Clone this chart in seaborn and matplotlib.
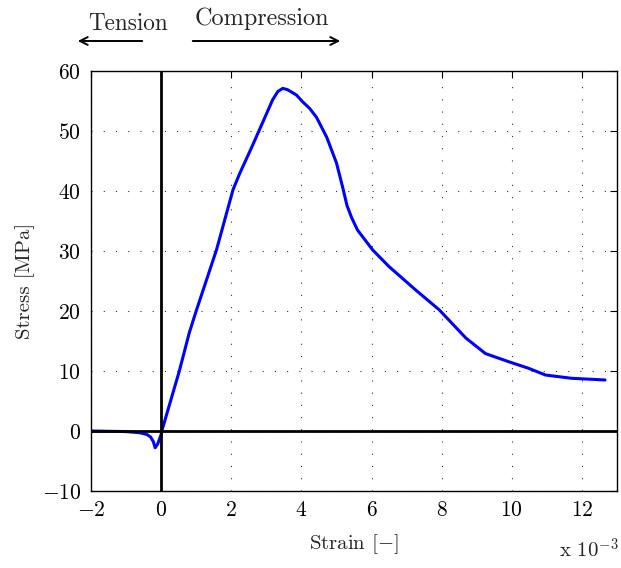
import matplotlib
matplotlib.use("Agg")
import matplotlib.pyplot as plt
import seaborn as sns
import pandas as pd

strain = [-2.0, -1.5, -1.0, -0.6, -0.4, -0.3, -0.22, -0.17, -0.1, 0.0, 0.02, 0.52, 0.8, 1.0,
          1.58, 2.05, 2.24, 2.6, 3.0, 3.18, 3.33, 3.47, 3.6, 3.86, 4.03, 4.23, 4.43, 4.72,
          5.0, 5.17, 5.3, 5.43, 5.6, 6.03, 6.5, 7.26, 7.93, 8.69, 9.25, 9.91, 10.48, 10.96,
          11.71, 12.66]
stress = [0.0, -0.05, -0.1, -0.3, -0.6, -1.0, -1.8, -2.8, -2.2, -0.6, 0.0, 10.0, 16.3, 20.0,
          30.2, 40.2, 42.9, 47.5, 52.8, 55.2, 56.6, 57.1, 56.9, 56.0, 54.9, 53.8, 52.3, 49.0,
          44.7, 40.8, 37.6, 35.6, 33.5, 30.2, 27.4, 23.5, 20.2, 15.5, 12.9, 11.55, 10.45, 9.33,
          8.78, 8.5]
xticks = [-2, 0, 2, 4, 6, 8, 10, 12]
yticks = [-10, 0, 10, 20, 30, 40, 50, 60]

sns.set_style("white")
plt.rcParams["font.family"] = ["cmr10", "DejaVu Serif"]
plt.rcParams["mathtext.fontset"] = "cm"
plt.rcParams["axes.formatter.use_mathtext"] = True
plt.rcParams["axes.unicode_minus"] = True

fig = plt.figure(figsize=(6.21, 5.68), dpi=100)
ax = fig.add_axes([0.1465, 0.1356, 0.847, 0.7394])

df = pd.DataFrame({"strain": strain, "stress": stress})
sns.lineplot(data=df, x="strain", y="stress", ax=ax, color="#0000ff", lw=2.2, sort=False)

ax.axvline(0, color="black", lw=2.0, zorder=3)
ax.axhline(0, color="black", lw=2.0, zorder=3)

ax.set_xlim(-2, 13)
ax.set_ylim(-10, 60)
ax.set_xticks(xticks)
ax.set_yticks(yticks)
ax.grid(True, color="#333333", linestyle=(0, (1, 10)), lw=0.8)
for s in ax.spines.values():
    s.set_color("black")
    s.set_linewidth(1.0)
ax.tick_params(direction="in", length=5, width=0.8, top=True, right=True,
               labelsize=15.5, colors="black", pad=7)
ax.set_xlabel("Strain [$-$]", fontsize=15, labelpad=9)
ax.set_ylabel("Stress [MPa]", fontsize=15, labelpad=5)

fig.text(619 / 621, 1 - 550 / 568, "x 10$^{-3}$", ha="right", va="center", fontsize=15)

fig.text(128 / 621, 1 - 24 / 568, "Tension", ha="center", va="center", fontsize=16.7)
fig.text(262 / 621, 1 - 19 / 568, "Compression", ha="center", va="center", fontsize=17.5)
fig.patches.append(matplotlib.patches.FancyArrowPatch(
    (145 / 621, 1 - 41 / 568), (75 / 621, 1 - 41 / 568), transform=fig.transFigure,
    arrowstyle="->", mutation_scale=14, lw=1.4, color="black"))
fig.patches.append(matplotlib.patches.FancyArrowPatch(
    (190 / 621, 1 - 41 / 568), (343 / 621, 1 - 41 / 568), transform=fig.transFigure,
    arrowstyle="->", mutation_scale=14, lw=1.4, color="black"))

fig.savefig("out.png", dpi=100)
